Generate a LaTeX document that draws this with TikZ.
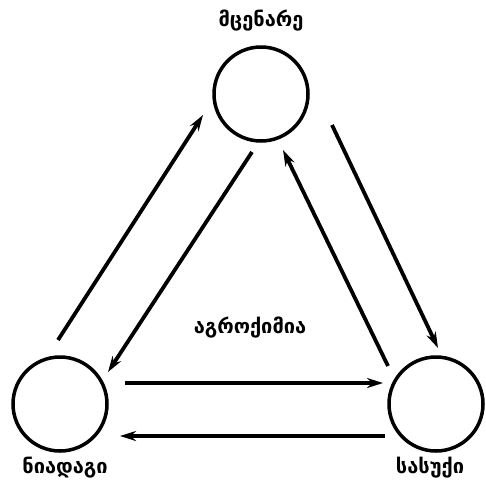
\documentclass[tikz,border=0pt]{standalone}
\usepackage{fontspec}
\newfontfamily\geofont{DejaVu Sans}
\usetikzlibrary{positioning,arrows.meta}

\begin{document}
\begin{tikzpicture}[
    x=1pt, y=-1pt,
    >={Stealth[length=16pt,width=10pt]},
    node distance=4pt,
    pool/.style={circle, draw, line width=3.5pt, minimum size=94pt, inner sep=0pt},
    arrow/.style={->, line width=3.8pt},
    caption/.style={font=\geofont\bfseries\fontsize{20}{22}\selectfont, inner sep=0pt}
]
\useasboundingbox (0,0) rectangle (486,482);

% Circles
\node[pool] (plant) at (261,94) {};
\node[pool] (soil) at (60,404) {};
\node[pool] (fert) at (436,404) {};

% Labels
\node[caption, above=14pt of plant] (plantname) {მცენარე};
\node[caption, below=of soil, xshift=5pt] (soilname) {ნიადაგი};
\node[caption, below=of fert, xshift=-6pt] (fertname) {სასუქი};
\node[caption] (agro) at (250,328) {აგროქიმია};

% Arrows
\draw[arrow] ([shift={(-2,-64)}]soil.center) -- ([shift={(-58,21)}]plant.center);
\draw[arrow] ([shift={(-9,58)}]plant.center) -- ([shift={(48,-32)}]soil.center);
\draw[arrow] ([shift={(71,31)}]plant.center) -- ([shift={(2,-56)}]fert.center);
\draw[arrow] ([shift={(-48,-38)}]fert.center) -- ([shift={(22,56)}]plant.center);
\draw[arrow] ([shift={(65,-21)}]soil.center) -- ([shift={(-53,-21)}]fert.center);
\draw[arrow] ([shift={(-51,32)}]fert.center) -- ([shift={(60,32)}]soil.center);

\end{tikzpicture}
\end{document}
